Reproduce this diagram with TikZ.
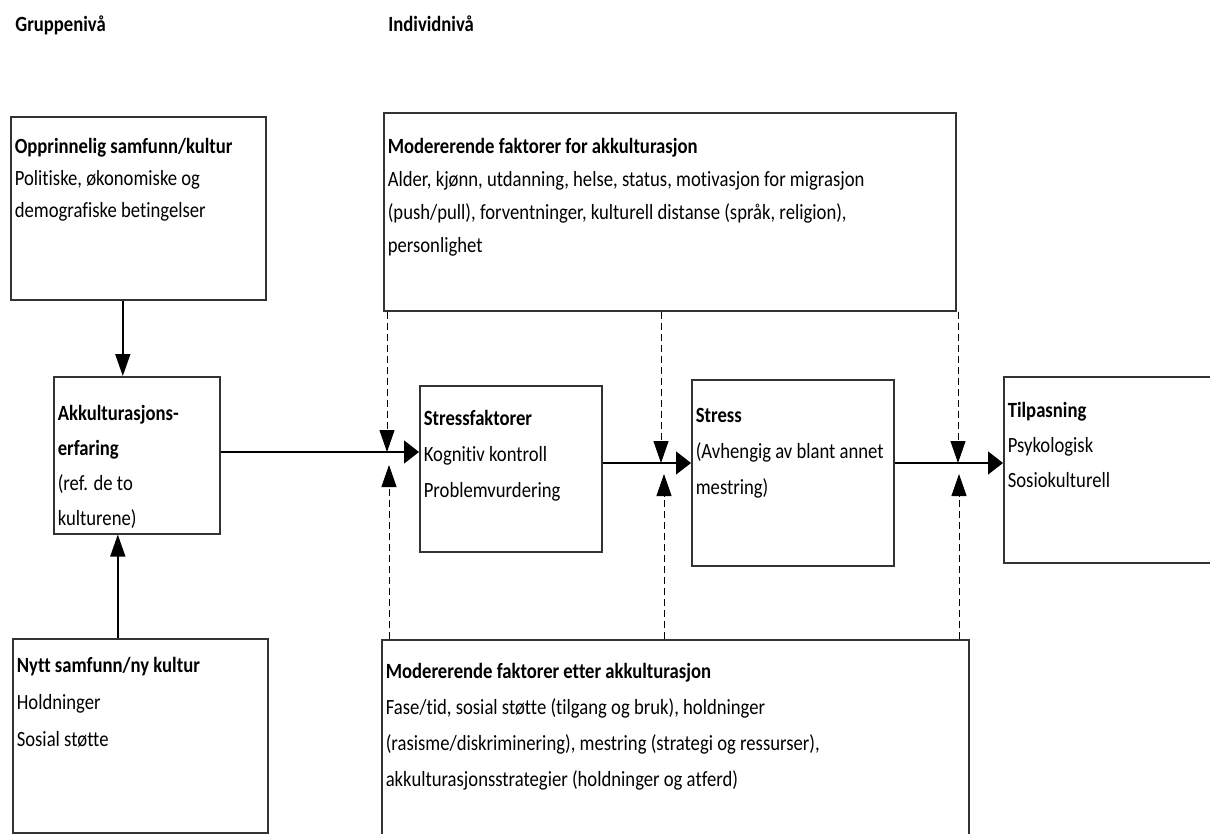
\documentclass[tikz,border=0pt]{standalone}
\usepackage{fontspec}
\setmainfont{Carlito}[FakeStretch=0.86, Ligatures=NoCommon]
\usetikzlibrary{arrows.meta}

\newcommand{\boxtext}[5]{\parbox[c][#2][t]{#1}{\raggedright\fontsize{10.85}{#4}\selectfont\rule{0pt}{#3}#5\par}}

\begin{document}
\begin{tikzpicture}[
        x=0.5pt, y=-0.5pt,
        box/.style={draw=black!80, line width=0.8pt, anchor=north west, inner xsep=2pt, inner ysep=0pt},
        level/.style={anchor=base west, inner sep=0pt, font=\fontsize{10.85}{13}\selectfont\bfseries},
        flow/.style={line width=0.8pt, -{Triangle[length=7.5pt, width=11.5pt]}},
        vflow/.style={line width=0.8pt, -{Triangle[length=11pt, width=7.5pt]}},
        modlink/.style={line width=0.5pt, dash pattern=on 3.5pt off 2pt, -{Triangle[length=11pt, width=7.5pt]}}
    ]
    \useasboundingbox (0,0) rectangle (1210,834);
    \clip (0,0) rectangle (1210,834);

    \node[level] (gruppe) at (15,32) {Gruppenivå};
    \node[level] (indiv) at (388,32) {Individnivå};

    \node[box] (orig) at (10,116) {\boxtext{123.5pt}{91.5pt}{18.5pt}{16pt}{%
        \textbf{Opprinnelig samfunn/kultur}\\Politiske, økonomiske og\\demografiske betingelser}};
    \node[box] (akk) at (53,376) {\boxtext{79pt}{78.5pt}{22pt}{17.5pt}{%
        \textbf{Akkulturasjons-}\\\textbf{erfaring}\\(ref. de to\\kulturene)}};
    \node[box] (nytt) at (12,638) {\boxtext{123.5pt}{97pt}{17pt}{18.5pt}{%
        \textbf{Nytt samfunn/ny kultur}\\Holdninger\\Sosial støtte}};
    \node[box] (modfor) at (383,112) {\boxtext{282pt}{99pt}{20.5pt}{16.5pt}{%
        \textbf{Modererende faktorer for akkulturasjon}\\
        Alder, kjønn, utdanning, helse, status, motivasjon for migrasjon\\
        (push/pull), forventninger, kulturell distanse (språk, religion),\\
        personlighet}};
    \node[box] (stressf) at (419,385) {\boxtext{87pt}{83pt}{20pt}{18pt}{%
        \textbf{Stressfaktorer}\\Kognitiv kontroll\\Problemvurdering}};
    \node[box] (stress) at (691,379) {\boxtext{97pt}{93pt}{21.5pt}{18pt}{%
        \textbf{Stress}\\(Avhengig av blant annet\\mestring)}};
    \node[box] (tilp) at (1003,376) {\boxtext{101pt}{93pt}{20.5pt}{17.5pt}{%
        \textbf{Tilpasning}\\Psykologisk\\Sosiokulturell}};
    \node[box] (etter) at (381,639) {\boxtext{289.5pt}{110pt}{19.5pt}{18pt}{%
        \textbf{Modererende faktorer etter akkulturasjon}\\
        Fase/tid, sosial støtte (tilgang og bruk), holdninger\\
        (rasisme/diskriminering), mestring (strategi og ressurser),\\
        akkulturasjonsstrategier (holdninger og atferd)}};

    \coordinate (d1) at (387,452);
    \coordinate (d2) at (661,463);
    \coordinate (d3) at (958,463);
    \coordinate (u1) at (389,465);
    \coordinate (u2) at (664,474);
    \coordinate (u3) at (959,474);

    \draw[vflow] ([xshift=-7.75pt]orig.south) -- ([xshift=-7.75pt]orig.south |- akk.north);
    \draw[vflow] ([xshift=-11.25pt]nytt.north) -- ([xshift=-11.25pt]nytt.north |- akk.south);

    \draw[flow] (akk.east |- d1) -- (stressf.west |- d1);
    \draw[flow] (stressf.east |- d2) -- (stress.west |- d2);
    \draw[flow] (stress.east |- d3) -- (tilp.west |- d3);

    \foreach \j in {1,2,3} {
        \draw[modlink] (modfor.south -| d\j) -- (d\j);
        \draw[modlink] (etter.north -| u\j) -- (u\j);
    }
\end{tikzpicture}
\end{document}
